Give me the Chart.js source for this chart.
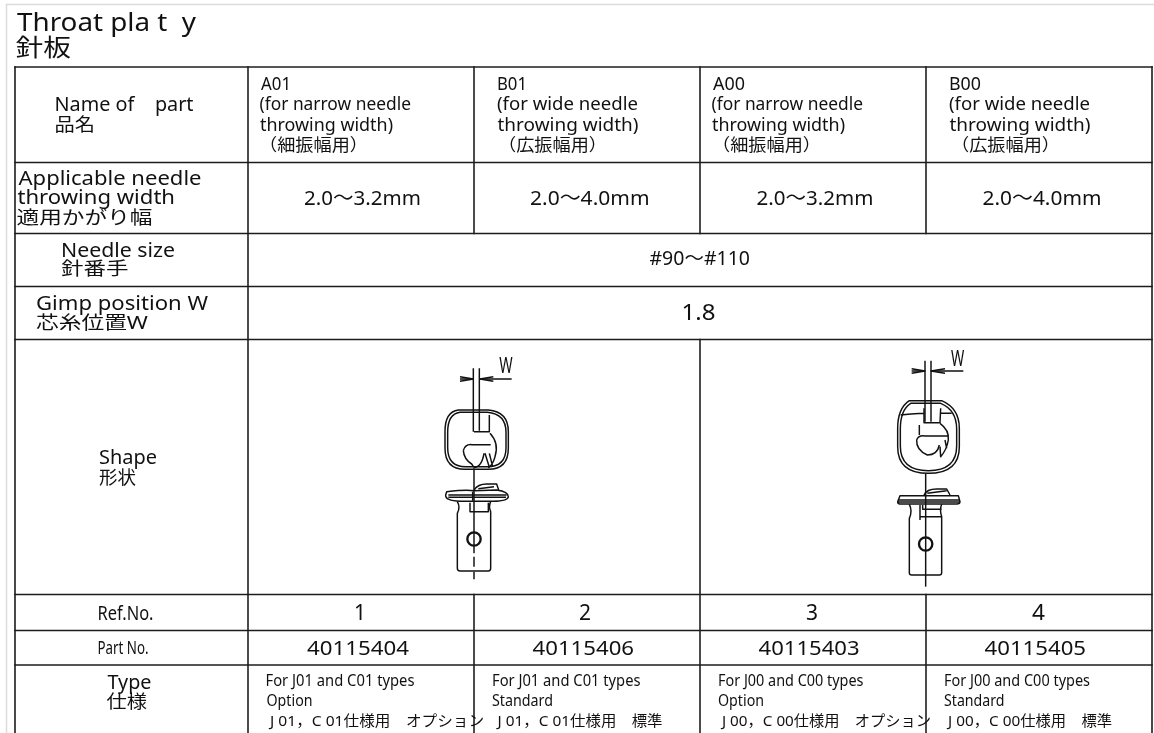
<!DOCTYPE html>
<html>
<head>
<meta charset="utf-8">
<title>Throat plate</title>
<script src="https://cdn.jsdelivr.net/npm/chart.js@4"></script>
<style>
  html, body { margin: 0; padding: 0; background: #fff; }
  canvas { display: block; }
</style>
</head>
<body>
<canvas id="myChart" width="1154" height="733"></canvas>
<script>
// table content
var titleLines = ['Throat pla t  y', '針板'];
var partNames = ['Name of    part', '品名'];
var variantCodes = ['A01', 'B01', 'A00', 'B00'];
var variantWidths = ['(for narrow needle', '(for wide needle', '(for narrow needle', '(for wide needle'];
var variantThrow = ['throwing width)', 'throwing width)', 'throwing width)', 'throwing width)'];
var variantJa = ['（細振幅用）', '（広振幅用）', '（細振幅用）', '（広振幅用）'];
var widthHeads = ['Applicable needle', 'throwing width', '適用かがり幅'];
var widthValues = ['2.0～3.2mm', '2.0～4.0mm', '2.0～3.2mm', '2.0～4.0mm'];
var sizeHeads = ['Needle size', '針番手'];
var sizeValue = '#90～#110';
var gimpHeads = ['Gimp position W', '芯糸位置W'];
var gimpValue = '1.8';
var shapeHeads = ['Shape', '形状'];
var refHead = 'Ref.No.';
var refNos = ['1', '2', '3', '4'];
var partHead = 'Part No.';
var partNos = ['40115404', '40115406', '40115403', '40115405'];
var typeHeads = ['Type', '仕様'];
var typeFor = ['For J01 and C01 types', 'For J01 and C01 types', 'For J00 and C00 types', 'For J00 and C00 types'];
var typeKind = ['Option', 'Standard', 'Option', 'Standard'];
var typeJa = ['J 01，C 01仕様用　オプション', 'J 01，C 01仕様用　標準', 'J 00，C 00仕様用　オプション', 'J 00，C 00仕様用　標準'];

// table grid, in page units
var colEdges = [15, 248, 474, 700, 926, 1152];
var rowEdges = [67, 162.5, 233.5, 286.5, 339.5, 594.5, 630.5, 665, 733];

function seg(x1, y1, x2, y2, color, width) {
  return {
    data: [{ x: x1, y: y1 }, { x: x2, y: y2 }],
    showLine: true, pointRadius: 0, borderColor: color, borderWidth: width,
    borderCapStyle: 'square', clip: false
  };
}

var ink = '#1c1c1c';
var datasets = [
  seg(6.5, 4.5, 1154, 4.5, '#dcdcdc', 1.5),
  seg(6.5, 4.5, 6.5, 733, '#dcdcdc', 1.5)
];
rowEdges.slice(0, -1).forEach(function (y) {
  datasets.push(seg(colEdges[0], y, colEdges[5], y, ink, 1.6));
});
datasets.push(seg(colEdges[0], rowEdges[0], colEdges[0], 733, ink, 1.6));
datasets.push(seg(colEdges[1], rowEdges[0], colEdges[1], 733, '#000', 1.4));
datasets.push(seg(colEdges[5], rowEdges[0], colEdges[5], 733, ink, 1.6));
[2, 3, 4].forEach(function (c) {
  datasets.push(seg(colEdges[c], rowEdges[0], colEdges[c], rowEdges[2], '#000', 1.4));
  datasets.push(seg(colEdges[c], c === 3 ? rowEdges[4] : rowEdges[5], colEdges[c], 733, '#000', 1.4));
});

// text boxes: text, left, right, baseline, font size
var T = [
  [titleLines[0], 17, 196, 31, 26],
  [titleLines[1], 15.5, 71, 55.5, 24],
  [partNames[0], 54.5, 193.5, 111, 19],
  [partNames[1], 54.5, 95, 130.5, 18],
  [widthHeads[0], 18.5, 201.5, 184.5, 19],
  [widthHeads[1], 17.5, 175, 204, 19],
  [widthHeads[2], 16.5, 152.5, 223.5, 18],
  [sizeHeads[0], 61, 175, 256.5, 19],
  [sizeHeads[1], 61, 128.5, 275, 18],
  [gimpHeads[0], 36, 208, 310, 19],
  [gimpHeads[1], 36, 148, 329, 18],
  [sizeValue, 649.5, 750, 265, 19],
  [gimpValue, 681.5, 715.5, 320, 21],
  [shapeHeads[0], 99, 157, 464, 19],
  [shapeHeads[1], 99, 136, 484, 18],
  [refHead, 97.5, 153.5, 619.5, 20],
  [partHead, 97.5, 148.5, 653.5, 18],
  [typeHeads[0], 107.5, 151.5, 688.5, 19],
  [typeHeads[1], 106.5, 147, 708, 18]
];
var codeX = [[261, 291], [497, 527], [713, 745], [949, 981]];
var lineX = [[259.5, 411], [497, 638], [711.5, 863], [949, 1090]];
var throwX = [[260, 393], [497.5, 638.5], [712, 845], [949.5, 1090.5]];
var jaX = [[259, 368], [498, 607], [712, 821], [951, 1060]];
var valueX = [[304, 421], [530, 649.5], [756.5, 873.5], [982.5, 1101.5]];
var refX = [[354, 366], [579, 591], [806, 818], [1032, 1045]];
var partX = [[307, 409], [532.5, 634], [758.5, 859.5], [984.5, 1086]];
var forX = [[265.5, 414.5], [492, 640.5], [718, 863.5], [944, 1090]];
var kindX = [[266.5, 312.5], [492, 553], [718, 764], [944, 1004.5]];
var tjaX = [[270, 484], [497.5, 662.5], [722, 931], [948, 1112]];
function addRow(texts, xs, base, size) {
  texts.forEach(function (t, i) { T.push([t, xs[i][0], xs[i][1], base, size]); });
}
addRow(variantCodes, codeX, 89.5, 18);
addRow(variantWidths, lineX, 110, 18);
addRow(variantThrow, throwX, 131, 18);
addRow(variantJa, jaX, 151, 17);
addRow(widthValues, valueX, 204.5, 20);
addRow(refNos, refX, 620, 21);
addRow(partNos, partX, 654.5, 20);
addRow(typeFor, forX, 686, 17);
addRow(typeKind, kindX, 705.5, 17);
addRow(typeJa, tjaX, 726, 15);

// part drawings, sketched at 3x around an origin
var sketches = [
  {
    origin: [400, 340], hole: [222, 597], W: [499.3, 512.7, 373],
    paths: [
      'M220 85 V275 M238 85 V272 M180 117 H220 M240 117 H335',
      'M180 110 L220 117 L180 124 M280 110 L240 117 L280 124',
      'M175 210 H265 Q325 215 325 275 V325 Q325 388 265 388 H195 Q135 388 135 325 V275 Q135 215 175 210Z',
      'M180 217 H262 Q318 222 318 277 V323 Q318 380 262 380 H197 Q143 380 143 323 V277 Q143 222 180 217Z',
      'M222 275 H268 V225 M190 332 Q195 312 215 314 H272 M190 332 Q192 358 215 372 L222 382',
      'M222 382 Q245 382 252 340 M270 280 Q298 310 285 350 Q280 372 265 384 M255 340 L268 382 M268 340 L278 380',
      'M140 455 Q200 448 222 452 L290 450 Q325 455 325 470 Q325 482 280 484 H180 Q135 482 137 465Z',
      'M222 450 Q235 430 265 432 H290 L296 450 M235 446 L282 440 M145 465 H320 M145 472 H318 M218 455 V482',
      'M172 485 Q182 502 172 520 V685 Q172 693 180 693 H265 Q272 693 272 685 V515 Q265 500 272 485 M210 488 V515 H265 V488',
      'M222 385 V640 M222 650 V680 M222 695 V718'
    ]
  },
  {
    origin: [850, 340], hole: [227, 612], W: [951, 964.3, 366],
    paths: [
      'M225 62 V245 M243 62 V245 M185 93 H225 M243 93 H340',
      'M185 86 L225 93 L185 100 M285 86 L243 93 L285 100',
      'M178 182 H275 Q328 205 328 265 V320 Q328 400 235 400 Q143 400 143 320 V265 Q143 205 178 182Z',
      'M182 190 H272 Q320 210 320 267 V318 Q320 392 235 392 Q151 392 151 318 V267 Q151 210 182 190Z',
      'M152 225 Q200 220 222 220 M272 220 H305 M222 205 V248 H270 L272 205',
      'M208 255 V285 M200 300 Q205 285 225 288 H295 M200 300 Q198 330 232 345 Q262 345 268 315',
      'M270 250 Q298 270 295 300 Q290 330 272 350 L270 320 M285 300 L290 325',
      'M150 467 H325 L330 485 Q330 492 320 492 H150 Q143 492 143 485Z M143 480 H330 M143 486 H330',
      'M222 465 Q230 447 260 447 H290 L300 465 M232 460 L290 452',
      'M178 493 Q188 512 178 535 V698 Q178 705 185 705 H268 Q275 705 275 698 V530 Q268 510 275 493 M210 495 V540 M218 495 V508 H275 M212 530 H275',
      'M227 400 V740'
    ]
  }
];

var FONT = '"Noto Sans", "Noto Sans CJK JP", sans-serif';

var tablePlugin = {
  id: 'tablePlugin',
  afterDatasetsDraw: function (chart) {
    var ctx = chart.ctx;
    var sx = chart.scales.x, sy = chart.scales.y;

    function drawText(t) {
      var left = sx.getPixelForValue(t[1]), right = sx.getPixelForValue(t[2]);
      var base = sy.getPixelForValue(t[3]);
      ctx.save();
      ctx.font = t[4] + 'px ' + FONT;
      ctx.fillStyle = '#111';
      ctx.textBaseline = 'alphabetic';
      ctx.textAlign = 'left';
      var w = ctx.measureText(t[0]).width;
      ctx.translate(left, base);
      ctx.scale((right - left) / w, 1);
      ctx.fillText(t[0], 0, 0);
      ctx.restore();
    }

    T.forEach(drawText);

    sketches.forEach(function (s) {
      ctx.save();
      ctx.translate(sx.getPixelForValue(s.origin[0]), sy.getPixelForValue(s.origin[1]));
      ctx.scale(1 / 3, 1 / 3);
      ctx.strokeStyle = '#111';
      ctx.lineWidth = 4.4;
      ctx.lineJoin = 'round';
      s.paths.forEach(function (d) { ctx.stroke(new Path2D(d)); });
      ctx.lineWidth = 7;
      ctx.beginPath();
      ctx.arc(s.hole[0], s.hole[1], 20, 0, Math.PI * 2);
      ctx.stroke();
      ctx.restore();
      drawText(['W', s.W[0], s.W[1], s.W[2], 21]);
    });
  }
};

var ctx = document.getElementById('myChart').getContext('2d');
var myChart = new Chart(ctx, {
  type: 'scatter',
  data: { datasets: datasets },
  plugins: [tablePlugin],
  options: {
    responsive: false,
    animation: false,
    layout: { padding: 0 },
    plugins: { legend: { display: false }, tooltip: { enabled: false } },
    scales: {
      x: { type: 'linear', display: false, min: 0, max: 1154 },
      y: { type: 'linear', display: false, min: 0, max: 733, reverse: true }
    }
  }
});
</script>
</body>
</html>
